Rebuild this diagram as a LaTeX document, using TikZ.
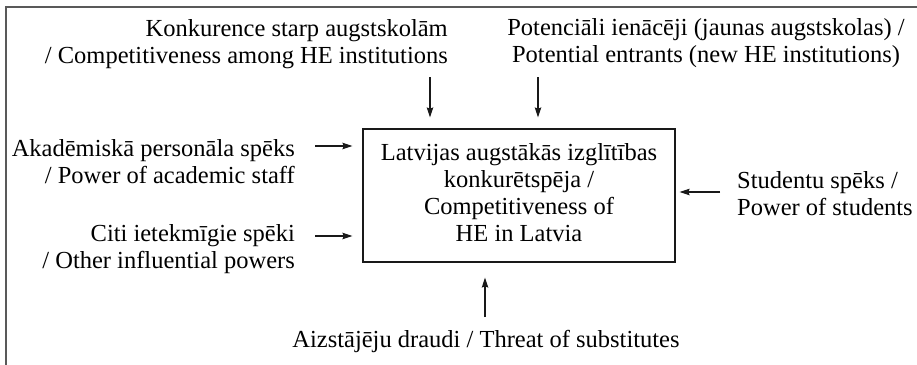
\documentclass[tikz,border=0pt]{standalone}
\usepackage{fontspec}
\setmainfont{Liberation Serif}
\usetikzlibrary{arrows.meta}
\newcommand{\twoR}[2]{\begin{tabular}[t]{@{}r@{}}#1\\#2\end{tabular}}
\newcommand{\twoL}[2]{\begin{tabular}[t]{@{}l@{}}#1\\#2\end{tabular}}
\newcommand{\twoC}[2]{\begin{tabular}[t]{@{}c@{}}#1\\#2\end{tabular}}
\begin{document}
\begin{tikzpicture}[x=1pt,y=-1pt,
  txt/.style={inner sep=0pt,font=\fontsize{24.5}{27}\selectfont,text=black},
  mainbox/.style={draw=black!90,line width=1.3pt,inner sep=0pt,minimum width=312pt,minimum height=133pt,font=\fontsize{24.5}{27}\selectfont,text=black},
  arr/.style={draw=black!90,line width=1.1pt,-{Stealth[length=10pt,width=6.5pt,inset=1.5pt]}},
  frame/.style={draw=black!65,line width=2pt}]
\useasboundingbox (0,0) rectangle (917,364);
\draw[frame] (6,366) -- (6,7) -- (919,7);
\node[mainbox] (box) at (519,195.5) {\raisebox{2pt}{\begin{tabular}{@{}c@{}}Latvijas augstākās izglītības\\konkurētspēja /\\Competitiveness of\\HE in Latvia\end{tabular}}};
\node[txt,anchor=base east] (comp) at (448,36) {\twoR{Konkurence starp augstskolām}{/ Competitiveness among HE institutions}};
\node[txt,anchor=base] (pot) at (706,35) {\twoC{Potenciāli ienācēji (jaunas augstskolas) /}{Potential entrants (new HE institutions)}};
\node[txt,anchor=base east] (acad) at (295,156) {\twoR{Akadēmiskā personāla spēks}{/ Power of academic staff}};
\node[txt,anchor=base east] (citi) at (295,241) {\twoR{Citi ietekmīgie spēki}{/ Other influential powers}};
\node[txt,anchor=base west] (stud) at (737,188) {\twoL{Studentu spēks /}{Power of students}};
\node[txt,anchor=base] (sub) at (486,347) {Aizstājēju draudi / Threat of substitutes};
\coordinate (t1) at (430,77);
\coordinate (t2) at (538,77);
\coordinate (l1) at (315,146);
\coordinate (l2) at (315,236);
\coordinate (r1) at (720,192);
\coordinate (b1) at (485,317);
\draw[arr,shorten >=11pt] (t1) -- (t1 |- box.north);
\draw[arr,shorten >=11pt] (t2) -- (t2 |- box.north);
\draw[arr,shorten >=10pt] (l1) -- (l1 -| box.west);
\draw[arr,shorten >=10pt] (l2) -- (l2 -| box.west);
\draw[arr,shorten >=4pt] (r1) -- (r1 -| box.east);
\draw[arr,shorten >=15pt] (b1) -- (b1 |- box.south);
\end{tikzpicture}
\end{document}
